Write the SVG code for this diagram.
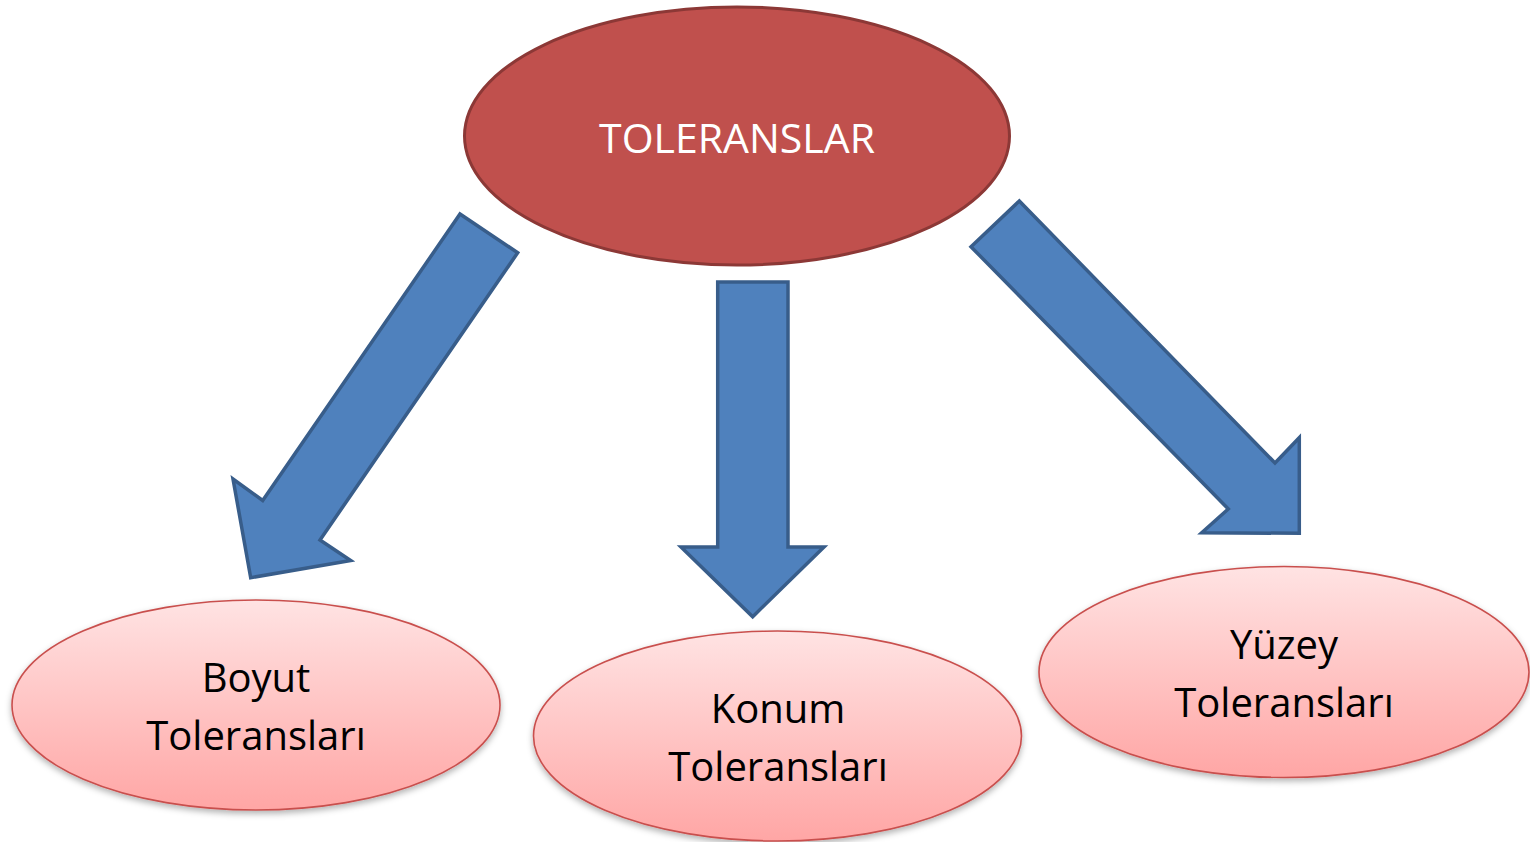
<svg xmlns="http://www.w3.org/2000/svg" width="1530" height="842" viewBox="0 0 1530 842">
<style>
.arrow{fill:#4F81BD;stroke:#385D8A;stroke-width:3.5;stroke-linejoin:miter}
.sub{fill:url(#pinkGrad);stroke:#C9504E;stroke-width:1.6;filter:url(#shadow)}
.lbl{font-family:"Open Sans","Liberation Sans",sans-serif;font-size:40px;fill:#000;text-anchor:middle}
.top{font-family:"Open Sans","Liberation Sans",sans-serif;font-size:41px;fill:#FFFFFF;text-anchor:middle}
</style>
<defs>
<linearGradient id="pinkGrad" x1="0" y1="0" x2="0" y2="1">
<stop offset="0" stop-color="#FFE3E3"/>
<stop offset="1" stop-color="#FFA6A5"/>
</linearGradient>
<filter id="shadow" x="-10%" y="-10%" width="120%" height="130%">
<feDropShadow dx="0" dy="3" stdDeviation="3" flood-color="#000" flood-opacity="0.3"/>
</filter>
</defs>
<rect width="1530" height="842" fill="#FFFFFF"/>
<g id="connectors">
<polygon class="arrow" points="460,214 517.7,252.7 320,540 350.7,560.5 250.7,577.7 233,479 262.7,500.5"/>
<polygon class="arrow" points="717.7,282 788,282 788,547 824,547 752.7,616.7 681,547 717.7,547"/>
<polygon class="arrow" points="1019.3,201 971,246.7 1228.3,509 1201.7,532.7 1299.3,533.3 1299.3,437.7 1275,463"/>
</g>
<g id="node-toleranslar">
<ellipse cx="737" cy="136" rx="272.5" ry="129" fill="#C0504D" stroke="#8C3836" stroke-width="3"/>
<text class="top" x="737" y="153">TOLERANSLAR</text>
</g>
<g id="node-boyut">
<ellipse class="sub" cx="256" cy="705" rx="244" ry="105"/>
<text class="lbl" x="256" y="692">Boyut</text>
<text class="lbl" x="256" y="750">Toleransları</text>
</g>
<g id="node-konum">
<ellipse class="sub" cx="777.5" cy="736" rx="244" ry="105"/>
<text class="lbl" x="778" y="723">Konum</text>
<text class="lbl" x="778" y="781">Toleransları</text>
</g>
<g id="node-yuzey">
<ellipse class="sub" cx="1284" cy="672" rx="245" ry="105.5"/>
<text class="lbl" x="1284" y="659">Yüzey</text>
<text class="lbl" x="1284" y="717">Toleransları</text>
</g>
</svg>
